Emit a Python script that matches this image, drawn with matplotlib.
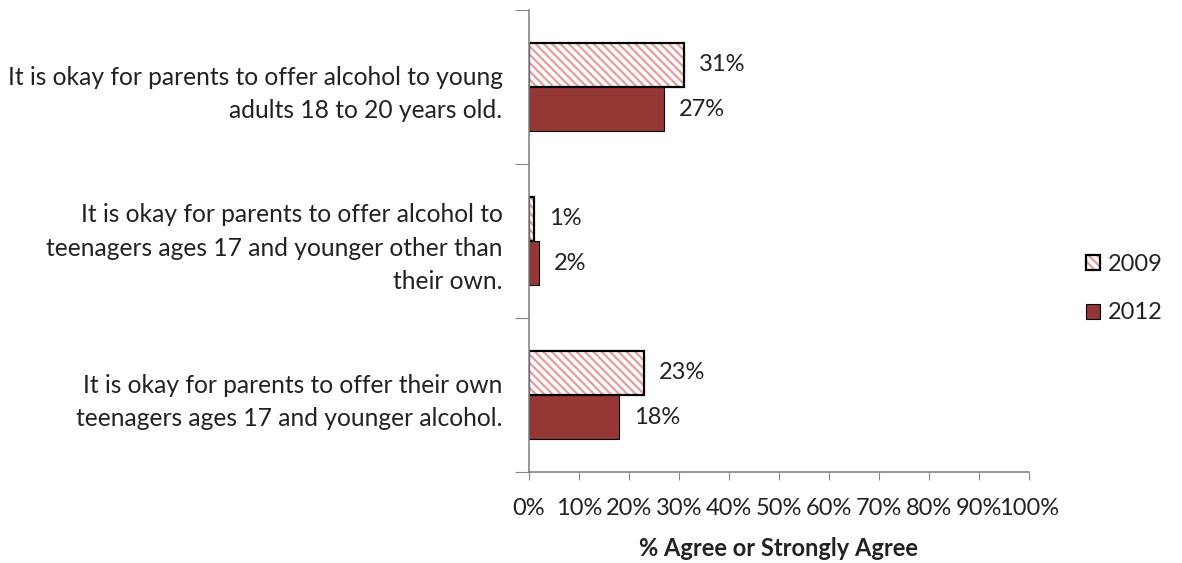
import numpy as np
import matplotlib.pyplot as plt

plt.rcParams['font.family'] = ['Lato', 'DejaVu Sans']

# survey statements, top to bottom
statements = [
    "It is okay for parents to offer alcohol to young\nadults 18 to 20 years old.",
    "It is okay for parents to offer alcohol to\nteenagers ages 17 and younger other than\ntheir own.",
    "It is okay for parents to offer their own\nteenagers ages 17 and younger alcohol.",
]
pct_2009 = [31, 1, 23]
pct_2012 = [27, 2, 18]
x_ticks = list(range(0, 101, 10))
x_tick_labels = [f"{t}%" for t in x_ticks]

dark_red = '#953735'
hatch_pink = '#e6a0a0'
axis_grey = '#868686'
text_col = '#222222'
fs = 17

plt.rcParams['hatch.linewidth'] = 1.7

fig = plt.figure(figsize=(11.82, 5.63), dpi=100)
ax = fig.add_axes([0.4475, 0.1616, 0.4231, 0.8206])

n = len(statements)
y = np.arange(n)[::-1].astype(float)   # first statement on top
h = 0.286

b1_fill = ax.barh(y + h / 2, pct_2009, height=h, color='white', edgecolor=hatch_pink,
                  hatch='\\\\\\\\', linewidth=0)
# black outline drawn separately so the hatch keeps its pink colour
b1_edge = ax.barh(y + h / 2, pct_2009, height=h, fill=False, edgecolor='black',
                  linewidth=1.6)
b2 = ax.barh(y - h / 2, pct_2012, height=h, color=dark_red, edgecolor='black',
             linewidth=0.8)

for yy, v in zip(y + h / 2, pct_2009):
    ax.text(v + 3, yy, f"{v}%", va='center', ha='left', fontsize=fs, color=text_col)
for yy, v in zip(y - h / 2, pct_2012):
    ax.text(v + 3, yy, f"{v}%", va='center', ha='left', fontsize=fs, color=text_col)

ax.set_xlim(0, 100)
ax.set_ylim(-0.5, n - 0.5)
ax.set_xticks(x_ticks)
ax.set_xticklabels(x_tick_labels, fontsize=fs, color=text_col)
ax.tick_params(axis='x', direction='out', length=6, color=axis_grey, pad=13)

# category boundary ticks on the y axis, statements as minor labels
ax.set_yticks(np.arange(-0.5, n, 1.0))
ax.set_yticklabels([])
ax.tick_params(axis='y', which='major', direction='out', length=10, color=axis_grey)
ax.set_yticks(y, minor=True)
ax.set_yticklabels(statements, minor=True, fontsize=17.7, color=text_col,
                   linespacing=1.55, ha='right')
ax.tick_params(axis='y', which='minor', length=0, pad=19)

for side in ['top', 'right']:
    ax.spines[side].set_visible(False)
for side in ['left', 'bottom']:
    ax.spines[side].set_color(axis_grey)
    ax.spines[side].set_linewidth(1.2)

ax.set_xlabel('% Agree or Strongly Agree', fontsize=fs, fontweight='bold',
              color=text_col, labelpad=13)

# legend key for 2009: pink hatch under a black frame
fig.legend([(b1_fill[0], b1_edge[0]), b2], ['2009', '2012'], loc='center left',
           bbox_to_anchor=(0.901, 0.487), frameon=False, fontsize=fs,
           handlelength=0.6, handleheight=0.6, handletextpad=0.3,
           labelspacing=1.15, labelcolor=text_col)

fig.savefig('out.png', dpi=100)
